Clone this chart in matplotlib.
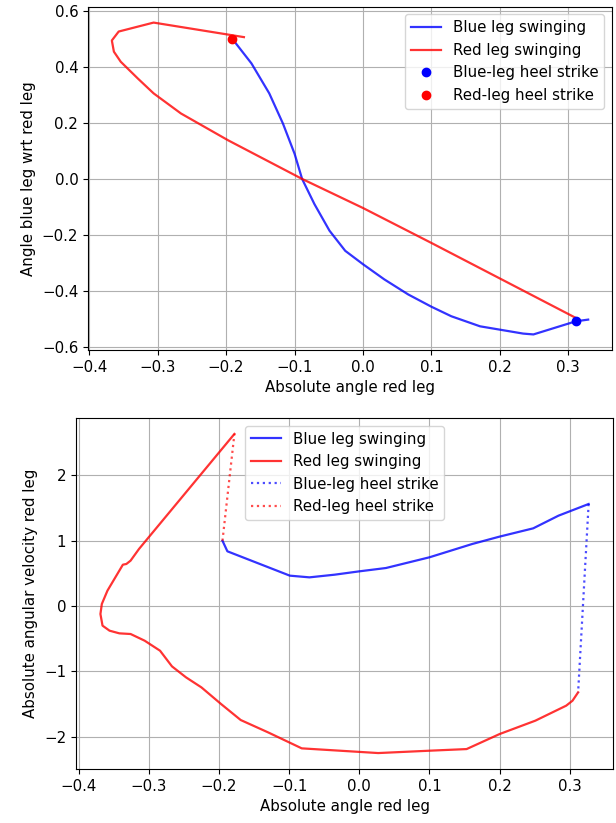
import matplotlib
matplotlib.use('Agg')
import matplotlib.pyplot as plt
import numpy as np

plt.rcParams['font.size'] = 10.8

# --- angle vs angle (top) ---
blue_x = [-0.191, -0.163, -0.137, -0.117, -0.100, -0.089, -0.071, -0.049, -0.026,
          0.000, 0.031, 0.066, 0.100, 0.129, 0.171, 0.234, 0.249, 0.311, 0.329]
blue_y = [0.502, 0.414, 0.307, 0.199, 0.091, 0.001, -0.089, -0.184, -0.256,
          -0.304, -0.358, -0.412, -0.456, -0.490, -0.526, -0.552, -0.555, -0.508, -0.502]

red_x = [0.311, 0.200, 0.100, 0.000, -0.089, -0.197, -0.266, -0.306, -0.329,
         -0.354, -0.364, -0.367, -0.357, -0.306, -0.174]
red_y = [-0.496, -0.355, -0.228, -0.103, 0.001, 0.139, 0.235, 0.307, 0.360,
         0.420, 0.456, 0.496, 0.528, 0.560, 0.508]

blue_strike = (0.311, -0.508)
red_strike = (-0.191, 0.502)

# --- angle vs angular velocity (bottom) ---
vblue_x = [-0.195, -0.188, -0.099, -0.071, -0.035, 0.000, 0.038, 0.100, 0.161,
           0.200, 0.248, 0.284, 0.327]
vblue_y = [1.000, 0.838, 0.465, 0.439, 0.480, 0.531, 0.582, 0.746, 0.950,
           1.063, 1.190, 1.384, 1.563]

vred_x = [-0.178, -0.314, -0.326, -0.332, -0.337, -0.359, -0.367, -0.369, -0.366,
          -0.356, -0.342, -0.326, -0.306, -0.284, -0.267, -0.247, -0.225, -0.197,
          -0.169, -0.130, -0.082, 0.027, 0.100, 0.153, 0.200, 0.251, 0.295, 0.304, 0.312]
vred_y = [2.636, 0.874, 0.695, 0.644, 0.633, 0.235, 0.031, -0.123, -0.301,
          -0.378, -0.419, -0.429, -0.531, -0.685, -0.925, -1.093, -1.247, -1.502,
          -1.747, -1.936, -2.181, -2.253, -2.217, -2.192, -1.962, -1.757, -1.527, -1.451, -1.323]

vblue_strike_x = [0.327, 0.312]
vblue_strike_y = [1.563, -1.323]
vred_strike_x = [-0.195, -0.178]
vred_strike_y = [1.000, 2.636]

fig = plt.figure(figsize=(6.16, 8.23), dpi=100)

ax1 = fig.add_axes([0.1429, 0.5747, 0.8506, 0.4168])
ax1.plot(blue_x, blue_y, color='b', alpha=0.8, lw=1.6, label='Blue leg swinging')
ax1.plot(red_x, red_y, color='r', alpha=0.8, lw=1.6, label='Red leg swinging')
ax1.plot(*blue_strike, 'bo', label='Blue-leg heel strike')
ax1.plot(*red_strike, 'ro', label='Red-leg heel strike')
ax1.set_xlabel('Absolute angle red leg')
ax1.set_ylabel('Angle blue leg wrt red leg')
ax1.grid(True)
ax1.legend(loc='upper right')

ax2 = fig.add_axes([0.1234, 0.0656, 0.8718, 0.4265])
ax2.plot(vblue_x, vblue_y, color='b', alpha=0.8, lw=1.6, label='Blue leg swinging')
ax2.plot(vred_x, vred_y, color='r', alpha=0.8, lw=1.6, label='Red leg swinging')
ax2.plot(vblue_strike_x, vblue_strike_y, 'b:', alpha=0.7, lw=1.6, label='Blue-leg heel strike')
ax2.plot(vred_strike_x, vred_strike_y, 'r:', alpha=0.7, lw=1.6, label='Red-leg heel strike')
ax2.set_xlabel('Absolute angle red leg')
ax2.set_ylabel('Absolute angular velocity red leg')
ax2.grid(True)
ax2.legend(loc='upper center')

fig.savefig('out.png', dpi=100)
